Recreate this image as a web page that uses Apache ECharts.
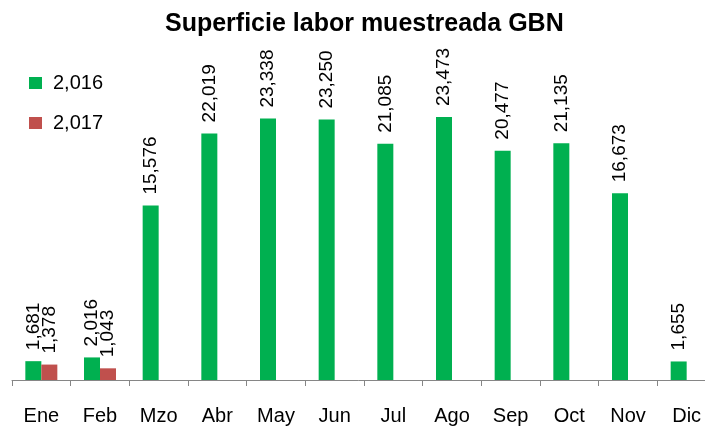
<!DOCTYPE html>
<html>
<head>
<meta charset="utf-8">
<script src="https://cdn.jsdelivr.net/npm/echarts@6/dist/echarts.min.js"></script>
<style>
  html, body { margin: 0; padding: 0; background: #fff; }
  #main { width: 705px; height: 427px; }
</style>
</head>
<body>
<div id="main"></div>
<script>
// meses
var meses = ['Ene', 'Feb', 'Mzo', 'Abr', 'May', 'Jun', 'Jul', 'Ago', 'Sep', 'Oct', 'Nov', 'Dic']

// 2016
var serie2016 = [1681, 2016, 15576, 22019, 23338, 23250, 21085, 23473, 20477, 21135, 16673, 1655]

// 2017
var serie2017 = [1378, 1043, null, null, null, null, null, null, null, null, null, null]

var nombres = ['2,016', '2,017']

var fuente = 'Liberation Sans'

function etiqueta(p) {
	if (p.value == null) return ''
	return p.value.toLocaleString('en-US')
}

function lbl() {
	return {
		show: true,
		position: 'top',
		rotate: 90,
		align: 'left',
		verticalAlign: 'middle',
		distance: 11,
		fontFamily: fuente,
		fontSize: 19,
		color: '#000',
		formatter: etiqueta
	}
}

var myChart = echarts.init(document.getElementById('main'))

var option = {
	animation: false,
	title: {
		text: 'Superficie labor muestreada GBN',
		left: 160,
		top: 7,
		textStyle: { fontFamily: fuente, fontWeight: 'bold', fontSize: 25, color: '#000' }
	},
	legend: {
		orient: 'vertical',
		left: 29,
		top: 73,
		padding: 0,
		itemGap: 20,
		itemWidth: 13,
		itemHeight: 12,
		icon: 'rect',
		textStyle: { fontFamily: fuente, fontSize: 20, color: '#000', padding: [0, 0, 0, 6] },
		data: nombres
	},
	grid: {
		left: 12,
		width: 704,
		top: 100,
		bottom: 47,
		containLabel: false,
		outerBoundsMode: 'none'
	},
	xAxis: {
		type: 'category',
		data: meses,
		axisLine: { lineStyle: { color: '#868686', width: 1 } },
		axisTick: { show: true, alignWithLabel: false, length: 6, lineStyle: { color: '#868686' } },
		axisLabel: { fontFamily: fuente, fontSize: 20, color: '#000', margin: 26 }
	},
	yAxis: {
		type: 'value',
		min: 0,
		max: 25000,
		show: false,
		splitLine: { show: false }
	},
	series: [
		{
			name: nombres[0],
			type: 'bar',
			data: serie2016,
			barWidth: 16,
			barGap: '0%',
			itemStyle: { color: '#00B050' },
			label: lbl()
		},
		{
			name: nombres[1],
			type: 'bar',
			data: serie2017,
			barWidth: 16,
			barGap: '0%',
			itemStyle: { color: '#C0504D' },
			label: lbl()
		}
	]
}

myChart.setOption(option)
</script>
</body>
</html>
